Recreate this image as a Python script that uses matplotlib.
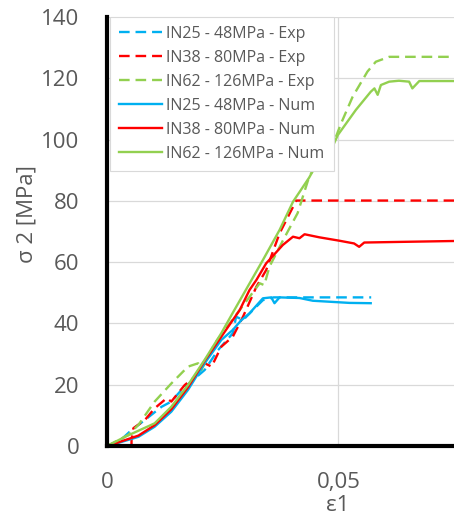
import numpy as np
import matplotlib
matplotlib.use("Agg")
import matplotlib.pyplot as plt

plt.rcParams["font.family"] = ["Open Sans", "DejaVu Sans"]

# strain / stress curves
blue_num_x = [0, 0.0013, 0.0068, 0.0103, 0.0139, 0.0175, 0.0211, 0.0247, 0.0272, 0.0290, 0.0308, 0.0337, 0.0355, 0.0362, 0.0373, 0.0416, 0.0445, 0.0524, 0.0570]
blue_num_y = [0, 0.5, 3.0, 6.3, 11.2, 18.3, 27.0, 34.6, 37.9, 41.0, 43.3, 48.2, 48.5, 46.6, 48.5, 48.3, 47.4, 46.7, 46.6]

blue_exp_x = [0, 0.0030, 0.0053, 0.0082, 0.0118, 0.0139, 0.0161, 0.0211, 0.0240, 0.0272, 0.0279, 0.0294, 0.0323, 0.0337, 0.0360, 0.0571]
blue_exp_y = [0, 2.0, 5.2, 8.5, 12.8, 14.5, 18.3, 24.8, 31.3, 36.8, 42.2, 41.1, 45.5, 47.6, 48.5, 48.5]

red_num_x = [0, 0.0013, 0.0068, 0.0103, 0.0139, 0.0175, 0.0211, 0.0244, 0.0287, 0.0308, 0.0323, 0.0344, 0.0380, 0.0402, 0.0416, 0.0427, 0.0459, 0.0502, 0.0534, 0.0545, 0.0556, 0.0631, 0.0750]
red_num_y = [0, 0.6, 3.4, 6.8, 12.0, 19.2, 27.8, 35.0, 44.4, 50.9, 54.2, 59.6, 65.6, 68.3, 67.8, 69.1, 68.1, 67.0, 66.1, 65.0, 66.4, 66.6, 66.9]

red_exp_x = [0.0053, 0.0053, 0.0057, 0.0082, 0.0103, 0.0129, 0.0139, 0.0168, 0.0190, 0.0211, 0.0226, 0.0247, 0.0272, 0.0294, 0.0323, 0.0344, 0.0373, 0.0409, 0.0750]
red_exp_y = [0, 2.0, 5.8, 8.5, 12.3, 15.6, 14.5, 19.9, 22.6, 27.0, 25.9, 32.4, 35.7, 42.2, 52.0, 57.4, 69.4, 80.1, 80.1]

green_num_x = [0, 0.0039, 0.0103, 0.0139, 0.0175, 0.0211, 0.0247, 0.0272, 0.0337, 0.0373, 0.0402, 0.0437, 0.0452, 0.0470, 0.0481, 0.0499, 0.0538, 0.0570, 0.0578, 0.0585, 0.0592, 0.0610, 0.0631, 0.0653, 0.0660, 0.0675, 0.0750]
green_num_y = [0, 3.0, 7.4, 12.8, 19.9, 28.1, 36.8, 43.5, 60.7, 70.5, 79.7, 87.6, 91.7, 91.7, 95.5, 101.5, 109.7, 115.6, 116.7, 114.6, 117.8, 118.9, 119.2, 118.9, 116.7, 119.1, 119.1]

green_exp_x = [0, 0.0046, 0.0068, 0.0103, 0.0139, 0.0175, 0.0197, 0.0204, 0.0233, 0.0330, 0.0340, 0.0351, 0.0380, 0.0412, 0.0437, 0.0452, 0.0470, 0.0490, 0.0506, 0.0531, 0.0563, 0.0581, 0.0610, 0.0750]
green_exp_y = [0, 3.6, 6.9, 14.5, 20.4, 25.9, 27.0, 24.8, 33.5, 53.1, 52.5, 58.5, 67.0, 76.0, 87.9, 91.7, 91.7, 99.0, 105.3, 114.0, 122.2, 125.4, 127.0, 127.0]

labels = ["IN25 - 48MPa - Exp", "IN38 - 80MPa - Exp", "IN62 - 126MPa - Exp",
          "IN25 - 48MPa - Num", "IN38 - 80MPa - Num", "IN62 - 126MPa - Num"]

blue = "#00b0f0"
red = "#ff0000"
green = "#92d050"
grey = "#595959"

fig = plt.figure(figsize=(4.54, 5.15), dpi=100)
ax = fig.add_axes([107/454, 69/515, 347/454, 429/515])

lw = 1.7
dash = (4.5, 2.5)
ax.plot(blue_exp_x, blue_exp_y, color=blue, lw=lw, dashes=dash, label=labels[0])
ax.plot(red_exp_x, red_exp_y, color=red, lw=lw, dashes=dash, label=labels[1])
ax.plot(green_exp_x, green_exp_y, color=green, lw=lw, dashes=dash, label=labels[2])
ax.plot(blue_num_x, blue_num_y, color=blue, lw=lw, label=labels[3])
ax.plot(red_num_x, red_num_y, color=red, lw=lw, label=labels[4])
ax.plot(green_num_x, green_num_y, color=green, lw=lw, label=labels[5])

ax.set_xlim(0, 0.075)
ax.set_ylim(0, 140)
ax.set_xticks([0, 0.05])
ax.set_xticklabels(["0", "0,05"])
ax.set_yticks(np.arange(0, 141, 20))
ax.tick_params(length=0, labelsize=16, labelcolor=grey)
ax.tick_params(axis="x", pad=19)
ax.tick_params(axis="y", pad=20)
ax.grid(True, color="#d9d9d9", lw=0.9)
ax.set_axisbelow(True)

for s in ["top", "right"]:
    ax.spines[s].set_visible(False)
for s in ["left", "bottom"]:
    ax.spines[s].set_linewidth(3)
    ax.spines[s].set_color("black")
    ax.spines[s].set_zorder(5)

ax.set_xlabel("ε1", fontsize=16, color=grey, va="center")
ax.xaxis.set_label_coords(0.666, -0.138)
ax.set_ylabel("σ 2 [MPa]", fontsize=16, color=grey)
ax.yaxis.set_label_coords(-0.20, 0.54)

leg = ax.legend(loc="upper left", bbox_to_anchor=(0.008, 1.0), borderaxespad=0,
                fontsize=11.5, handlelength=2.7, handletextpad=0.3, labelspacing=0.5,
                fancybox=False, framealpha=1, edgecolor="#d9d9d9", borderpad=0.55)
for t in leg.get_texts():
    t.set_color(grey)
leg.get_frame().set_linewidth(0.8)

fig.savefig("out.png", dpi=100)
